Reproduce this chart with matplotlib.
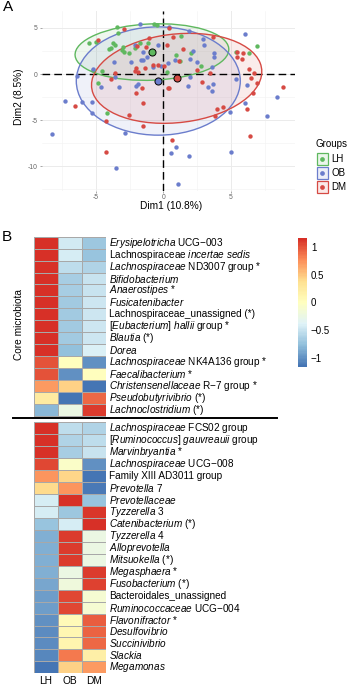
import matplotlib
matplotlib.use("Agg")
import matplotlib.pyplot as plt
import numpy as np
from matplotlib.colors import LinearSegmentedColormap
from matplotlib.patches import Ellipse, Rectangle
from matplotlib.lines import Line2D
from matplotlib.cm import ScalarMappable
from matplotlib.colors import Normalize

plt.rcParams["font.family"] = ["Liberation Sans", "DejaVu Sans"]
plt.rcParams["mathtext.fontset"] = "custom"
plt.rcParams["mathtext.rm"] = "Liberation Sans"
plt.rcParams["mathtext.it"] = "Liberation Sans:italic"
plt.rcParams["axes.unicode_minus"] = False

# --- panel A: PCA individuals -------------------------------------------
groups = ["LH", "OB", "DM"]
group_colors = ["#5FB85F", "#6B7DCC", "#D64A44"]

lh_x = [-3.41, -0.69, -0.45, -3.33, -5.48, -4.99, -3.70, -3.58, -3.87, -4.00,
        -3.01, -2.91, -2.56, -2.10, -1.73, -1.11, 0.94, 1.24, 1.29, 2.02,
        2.77, 5.38, 6.37, 6.96, -5.19, -4.56, -4.81, -4.20, 0.25, -3.04]
lh_y = [5.13, 5.42, 5.35, 4.41, 3.32, 3.43, 3.39, 3.14, 2.78, 2.67,
        2.96, 2.35, 2.24, 2.78, 3.32, 3.39, 2.06, 1.41, 4.12, 2.31,
        0.90, 2.35, 2.31, 3.07, 0.43, 0.33, -0.94, -4.26, 0.25, 2.60]

ob_x = [-1.73, 0.44, 1.93, 6.05, 2.96, 3.00, 2.22, 3.75, 3.75, 0.87,
        1.98, 2.47, 3.58, 1.98, 1.80, 3.33, 3.66, 3.58, 5.38, 6.22,
        8.44, 6.05, 4.94, 7.70, 5.04, 0.92, 0.55, 1.90, 1.11, -2.10,
        -1.48, -3.65, -2.42, -1.67, -5.19, -3.58, -6.37, -3.26, -2.02, -1.85,
        -4.64, -7.28, -6.05, -5.31, -5.31, -2.84, -8.22, -3.53, -0.37, -1.53,
        0.32, -0.17, -0.74, -1.23]
ob_y = [5.42, 5.05, 4.69, 4.33, 3.79, 3.14, 2.49, 2.31, 1.88, 1.52,
        1.59, 1.33, 0.73, -0.29, -1.27, -1.37, -1.08, -1.84, -0.54, -1.19,
        -2.45, -3.18, -4.15, -4.55, -8.45, -7.87, -8.60, -8.89, -11.95, 3.14,
        2.42, 1.33, 1.26, 1.52, 0.54, -0.29, -0.18, -1.37, -1.27, -1.10,
        -1.37, -2.92, -3.00, -3.00, -4.26, -6.43, -6.53, -10.20, 3.14, 1.52,
        1.16, 0.90, 0.79, 1.88]

dm_x = [0.44, 0.74, 3.66, 1.43, 0.30, 0.05, 2.47, 3.46, 5.48, 5.88,
        5.48, 5.80, 6.37, 6.72, 6.47, 6.92, 6.62, 8.84, 2.84, 0.44,
        4.00, 4.44, 3.83, 6.22, 6.42, 0.62, -4.81, -2.89, -1.06, -2.02,
        -2.10, -1.85, -0.74, -0.37, -3.58, -3.90, -2.02, -6.54, -4.27, -2.52,
        -1.48, -1.48, -4.24, -1.31, -1.98, 1.20, -1.36, -1.60, 0.37]
dm_y = [5.00, 3.97, 3.97, 2.74, 3.14, 0.87, 0.40, 0.14, 2.35, 2.31,
        1.80, 1.66, 0.54, 0.07, -0.47, -0.94, -2.09, -1.37, -0.90, -1.55,
        -3.79, -3.54, -4.51, -3.83, -6.72, -7.15, 3.65, 4.88, 3.87, 0.69,
        0.36, 0.25, 0.97, 0.97, 0.14, -0.54, -2.09, -3.43, -5.06, -4.44,
        -3.10, -5.63, -8.42, 2.96, 3.07, 1.40, 0.61, -1.55, -1.55]

center_x = [-0.84, -0.37, 0.99]
center_y = [2.38, -0.76, -0.47]

# concentration ellipses: semi-axes and rotation (degrees, data space)
ell_a = [5.70, 6.07, 6.40]
ell_b = [3.05, 5.87, 4.75]
ell_angle = [4, 0, 15]

# --- panel B: row-scaled abundance --------------------------------------
taxa = [
    r"$\it{Erysipelotricha}$ UCG−003",
    r"Lachnospiraceae $\it{incertae\ sedis}$",
    r"$\it{Lachnospiraceae}$ ND3007 group *",
    r"$\it{Bifidobacterium}$",
    r"$\it{Anaerostipes}$ *",
    r"$\it{Fusicatenibacter}$",
    "Lachnospiraceae_unassigned (*)",
    r"[$\it{Eubacterium}$] $\it{hallii}$ group *",
    r"$\it{Blautia}$ (*)",
    r"$\it{Dorea}$",
    r"$\it{Lachnospiraceae}$ NK4A136 group *",
    r"$\it{Faecalibacterium}$ *",
    r"$\it{Christensenellaceae}$ R−7 group *",
    r"$\it{Pseudobutyrivibrio}$ (*)",
    r"$\it{Lachnoclostridium}$ (*)",
    r"$\it{Lachnospiraceae}$ FCS02 group",
    r"[$\it{Ruminococcus}$] $\it{gauvreauii}$ group",
    r"$\it{Marvinbryantia}$ *",
    r"$\it{Lachnospiraceae}$ UCG−008",
    "Family XIII AD3011 group",
    r"$\it{Prevotella}$ 7",
    r"$\it{Prevotellaceae}$",
    r"$\it{Tyzzerella}$ 3",
    r"$\it{Catenibacterium}$ (*)",
    r"$\it{Tyzzerella}$ 4",
    r"$\it{Alloprevotella}$",
    r"$\it{Mitsuokella}$ (*)",
    r"$\it{Megasphaera}$ *",
    r"$\it{Fusobacterium}$ (*)",
    "Bacteroidales_unassigned",
    r"$\it{Ruminococcaceae}$ UCG−004",
    r"$\it{Flavonifractor}$ *",
    r"$\it{Desulfovibrio}$",
    r"$\it{Succinivibrio}$",
    r"$\it{Slackia}$",
    r"$\it{Megamonas}$",
]
n_core = 15

lh_z = [1.15, 1.14, 1.15, 1.15, 1.15, 1.15, 1.15, 1.15, 1.15, 1.15,
        1.00, 1.00, 0.70, 0.25, -0.80,
        1.15, 1.15, 1.15, 1.05, 0.72, 0.40, -0.42, -0.42, -0.72, -0.85,
        -0.85, -0.85, -0.85, -0.88, -0.93, -0.93, -1.00, -1.02, -1.02, -1.05, -1.15]
ob_z = [-0.45, -0.42, -0.55, -0.65, -0.65, -0.68, -0.68, -0.68, -0.68, -0.75,
        0.00, -1.00, 0.45, -1.15, -0.25,
        -0.55, -0.60, -0.65, -0.05, 0.43, 0.72, 1.15, -0.70, -0.42, 1.10,
        1.10, 1.10, -0.25, -0.20, 1.05, 1.05, 0.05, 0.10, 0.12, 0.85, 0.45]
dm_z = [-0.70, -0.72, -0.60, -0.50, -0.50, -0.47, -0.47, -0.47, -0.47, -0.40,
        -1.00, 0.00, -1.15, 0.90, 1.10,
        -0.60, -0.55, -0.50, -1.00, -1.15, -1.12, -0.73, 1.12, 1.14, -0.25,
        -0.25, -0.25, 1.10, 1.08, -0.12, -0.12, 0.95, 0.92, 0.90, 0.20, 0.70]

cbar_ticks = [-1, -0.5, 0, 0.5, 1]
cbar_labels = ["−1", "−0.5", "0", "0.5", "1"]
palette = ["#4575B4", "#91BFDB", "#E0F3F8", "#FFFFBF", "#FEE090", "#FC8D59", "#D73027"]

W, H = 349, 685
fig = plt.figure(figsize=(W / 100, H / 100), dpi=100)


def box(left, top, right, bottom):
    """Axes rectangle from pixel edges (origin top-left)."""
    return [left / W, 1 - bottom / H, (right - left) / W, (bottom - top) / H]


# ---------------------------------------------------------------- panel A
ax = fig.add_axes(box(41.7, 11, 295, 190.7))
ax.set_xlim(-9.0, 9.75)
ax.set_ylim(-12.65, 6.83)
ax.set_xticks([-5, 0, 5])
ax.set_yticks([-10, -5, 0, 5])
ax.set_xticks([-7.5, -2.5, 2.5, 7.5], minor=True)
ax.set_yticks([-12.5, -7.5, -2.5, 2.5], minor=True)
ax.grid(True, which="major", color="#EBEBEB", linewidth=0.7)
ax.grid(True, which="minor", color="#F2F2F2", linewidth=0.4)
ax.set_axisbelow(True)
for s in ax.spines.values():
    s.set_visible(False)
ax.tick_params(which="major", length=1.5, width=0.6, color="#999999",
               labelsize=4.9, labelcolor="#666666", pad=1.2)
ax.tick_params(which="minor", length=0)

xs = [lh_x, ob_x, dm_x]
ys = [lh_y, ob_y, dm_y]
for i, col in enumerate(group_colors):
    ax.add_patch(Ellipse((center_x[i], center_y[i]), 2 * ell_a[i], 2 * ell_b[i],
                         angle=ell_angle[i], facecolor=col, alpha=0.1,
                         edgecolor="none", zorder=1))
    ax.add_patch(Ellipse((center_x[i], center_y[i]), 2 * ell_a[i], 2 * ell_b[i],
                         angle=ell_angle[i], facecolor="none", edgecolor=col,
                         linewidth=1.0, zorder=3))

ax.axhline(0, color="black", linewidth=1.0, linestyle=(0, (5.5, 3)), zorder=2)
ax.axvline(0, color="black", linewidth=1.0, linestyle=(0, (5.5, 3)), zorder=2)

for i, col in enumerate(group_colors):
    ax.scatter(xs[i], ys[i], s=10, color=col, linewidths=0, zorder=4)
for i, col in enumerate(group_colors):
    ax.scatter(center_x[i], center_y[i], s=26, color=col, edgecolors="black",
               linewidths=0.7, zorder=5)

fig.text(171 / W, 1 - 206 / H, "Dim1 (10.8%)", ha="center", va="center", fontsize=7.3)
fig.text(19 / W, 1 - 97 / H, "Dim2 (8.5%)", ha="center", va="center",
         rotation=90, fontsize=7.3)

# legend
fig.text(316 / W, 1 - 144 / H, "Groups", ha="left", va="center", fontsize=7.0)
for i, (g, col) in enumerate(zip(groups, group_colors)):
    yc = 159 + 14 * i
    fig.add_artist(Rectangle(((316.5) / W, 1 - (yc + 6) / H), 11 / W, 12 / H,
                             transform=fig.transFigure, facecolor=col, alpha=0.12,
                             edgecolor="none"))
    fig.add_artist(Rectangle(((316.5) / W, 1 - (yc + 6) / H), 11 / W, 12 / H,
                             transform=fig.transFigure, facecolor="none",
                             edgecolor=col, linewidth=0.9))
    fig.add_artist(Line2D([322 / W], [1 - yc / H], marker="o", markersize=3.4,
                          color=col, markeredgewidth=0, transform=fig.transFigure))
    fig.text(331 / W, 1 - yc / H, g, ha="left", va="center", fontsize=7.0)

fig.text(8 / W, 1 - 7 / H, "A", ha="center", va="center", fontsize=11)

# ---------------------------------------------------------------- panel B
Z = np.column_stack([lh_z, ob_z, dm_z])
n_rows = len(taxa)
gap = 0.55
vmin, vmax = Z.min(), Z.max()
cmap = LinearSegmentedColormap.from_list("rdylbu_r", palette, N=100)

axh = fig.add_axes(box(34, 236.7, 106, 673.3))
xe = np.arange(4)
mesh_kw = dict(cmap=cmap, vmin=vmin, vmax=vmax, edgecolors="#A8A8A8", linewidth=0.6)
axh.pcolormesh(xe, np.arange(n_core + 1), Z[:n_core], **mesh_kw)
axh.pcolormesh(xe, np.arange(n_core, n_rows + 1) + gap, Z[n_core:], **mesh_kw)
axh.set_xlim(0, 3)
axh.set_ylim(n_rows + gap, 0)
axh.axis("off")

for i, name in enumerate(taxa):
    yc = i + 0.5 + (gap if i >= n_core else 0)
    axh.annotate(name, (3, yc), xytext=(2.4, 0), textcoords="offset points",
                 ha="left", va="center", fontsize=7.2, annotation_clip=False)

for j, g in enumerate(groups):
    axh.annotate(g, (j + 0.5, n_rows + gap), xytext=(0, -5.6),
                 textcoords="offset points", ha="center", va="center",
                 fontsize=7.3, annotation_clip=False)

fig.text(19 / W, 1 - 325 / H, "Core microbiota", ha="center", va="center",
         rotation=90, fontsize=7.3)
fig.add_artist(Line2D([13 / W, 277 / W], [1 - 418.3 / H] * 2, color="black",
                      linewidth=1.4, transform=fig.transFigure))

cax = fig.add_axes(box(298.3, 238.3, 306.7, 366.7))
cb = fig.colorbar(ScalarMappable(norm=Normalize(vmin, vmax), cmap=cmap), cax=cax)
cb.outline.set_visible(False)
cb.set_ticks(cbar_ticks)
cb.set_ticklabels(cbar_labels)
cax.tick_params(length=0, labelsize=7.0, pad=3)

fig.text(7 / W, 1 - 237 / H, "B", ha="center", va="center", fontsize=11)

fig.savefig("out.png", dpi=100, facecolor="white")
